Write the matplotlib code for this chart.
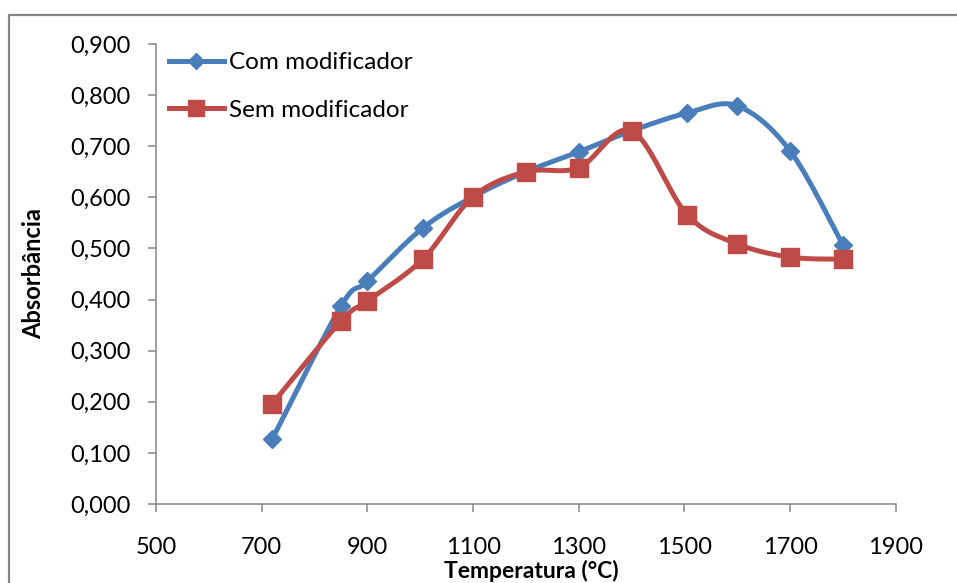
import matplotlib.pyplot as plt
import numpy as np
from matplotlib.lines import Line2D

plt.rcParams['font.family'] = ['Lato', 'DejaVu Sans']

blue = "#4A7EBB"
red = "#BE4B48"
axis_gray = "#868686"

# Data
temp_com = [720, 850, 900, 1005, 1100, 1200, 1300, 1400, 1505, 1600, 1700, 1800]
abs_com = [0.127, 0.387, 0.436, 0.540, 0.601, 0.650, 0.689, 0.730, 0.765, 0.779, 0.691, 0.507]
temp_sem = [720, 850, 900, 1005, 1100, 1200, 1300, 1400, 1505, 1600, 1700, 1800]
abs_sem = [0.196, 0.358, 0.397, 0.479, 0.601, 0.650, 0.658, 0.730, 0.566, 0.509, 0.483, 0.479]
labels = ["Com modificador", "Sem modificador"]


def smooth(ax, xs, ys, n=40):
    # Excel-like smoothed line: Catmull-Rom Bezier in display space
    pts = ax.transData.transform(np.column_stack([xs, ys]))
    p = np.vstack([pts[0], pts, pts[-1]])
    out = []
    t = np.linspace(0, 1, n)[:, None]
    for i in range(1, len(p) - 2):
        p0, p1, p2, p3 = p[i - 1], p[i], p[i + 1], p[i + 2]
        c1 = p1 + (p2 - p0) / 6
        c2 = p2 - (p3 - p1) / 6
        seg = ((1 - t) ** 3) * p1 + 3 * ((1 - t) ** 2) * t * c1 + 3 * (1 - t) * t ** 2 * c2 + t ** 3 * p2
        out.append(seg)
    out = np.vstack(out)
    back = ax.transData.inverted().transform(out)
    return back[:, 0], back[:, 1]


fig = plt.figure(figsize=(9.57, 5.83), dpi=100)
ax = fig.add_axes([0.163, 0.1355, 0.773, 0.789])
ax.set_xlim(500, 1900)
ax.set_ylim(0, 0.9)

sx, sy = smooth(ax, temp_com, abs_com)
ax.plot(sx, sy, color=blue, lw=3.6, solid_capstyle='round', zorder=2)
ax.plot(temp_com, abs_com, ls='none', marker='D', ms=9.5, color=blue, zorder=3)

sx, sy = smooth(ax, temp_sem, abs_sem)
ax.plot(sx, sy, color=red, lw=3.6, solid_capstyle='round', zorder=4)
ax.plot(temp_sem, abs_sem, ls='none', marker='s', ms=13, color=red, zorder=5)

ax.set_xticks(np.arange(500, 1901, 200))
ax.set_yticks(np.arange(0, 0.91, 0.1))
ax.set_yticklabels([f"{v:.3f}".replace('.', ',') for v in np.arange(0, 0.91, 0.1)])
ax.tick_params(axis='both', direction='out', length=6, width=1.1, color=axis_gray,
               labelsize=17, labelcolor='black')
ax.tick_params(axis='y', pad=12)
ax.tick_params(axis='x', pad=18)
for s in ['top', 'right']:
    ax.spines[s].set_visible(False)
for s in ['left', 'bottom']:
    ax.spines[s].set_color(axis_gray)
    ax.spines[s].set_linewidth(1.1)

ax.set_xlabel('Temperatura (°C)', fontsize=16.5, fontweight='bold')
ax.set_ylabel('Absorbância', fontsize=17, fontweight='bold')
ax.xaxis.set_label_coords(0.508, -0.122)
ax.yaxis.set_label_coords(-0.15, 0.5)

handles = [Line2D([], [], color=blue, lw=3.6, marker='D', ms=8),
           Line2D([], [], color=red, lw=3.6, marker='s', ms=11)]
ax.legend(handles, labels, loc='upper left', bbox_to_anchor=(-0.012, 1.03), frameon=False,
          fontsize=17.5, handlelength=2.25, handletextpad=0.2, labelspacing=1.1)

# outer chart border (left and top visible)
fig.add_artist(Line2D([9 / 957, 9 / 957, 1.0], [0.0, 1 - 15 / 583, 1 - 15 / 583],
                      transform=fig.transFigure, color=axis_gray, lw=1.6))

fig.savefig('out.png', dpi=100)
